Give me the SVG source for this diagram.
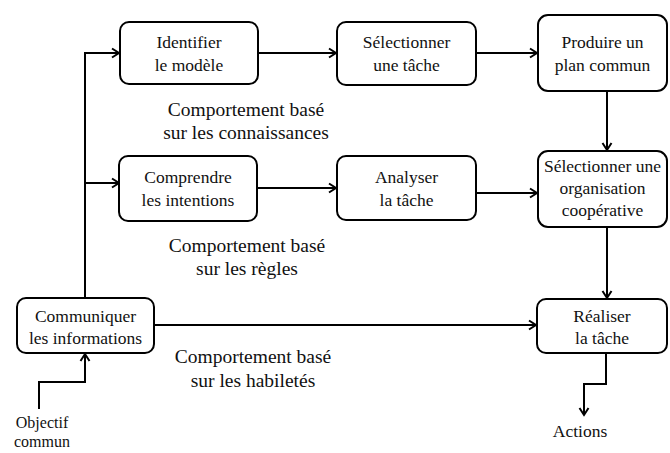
<svg xmlns="http://www.w3.org/2000/svg" width="670" height="453" viewBox="0 0 670 453">
<style>
.box{fill:#fff;stroke:#000;stroke-width:2}
.t{font-family:"Liberation Serif","Times New Roman",serif;font-size:17.5px;fill:#111;text-anchor:middle}
.s{font-family:"Liberation Serif","Times New Roman",serif;font-size:16px;fill:#111;text-anchor:middle}
.lbl{font-family:"Liberation Serif","Times New Roman",serif;font-size:19.5px;fill:#111;text-anchor:middle}
.c{fill:none;stroke:#000;stroke-width:2}
</style>
<defs>
<marker id="arr" viewBox="0 0 12 12" refX="10" refY="6" markerWidth="12" markerHeight="12" orient="auto" markerUnits="userSpaceOnUse">
<path d="M3,1.5 L10,6 L3,10.5" fill="none" stroke="#000" stroke-width="2"/>
</marker>
</defs>
<rect width="670" height="453" fill="#fff"/>
<g id="connectors">
<path class="c" d="M85,298 V53 H119" marker-end="url(#arr)"/>
<path class="c" d="M85,183 H119" marker-end="url(#arr)"/>
<path class="c" d="M258,53 H336" marker-end="url(#arr)"/>
<path class="c" d="M476,53 H537" marker-end="url(#arr)"/>
<path class="c" d="M607,91 V150" marker-end="url(#arr)"/>
<path class="c" d="M257,188 H336" marker-end="url(#arr)"/>
<path class="c" d="M476,193 H537" marker-end="url(#arr)"/>
<path class="c" d="M607,227 V298" marker-end="url(#arr)"/>
<path class="c" d="M154,325 H536" marker-end="url(#arr)"/>
<path class="c" d="M606,353 V384 H584 V415" marker-end="url(#arr)"/>
<path class="c" d="M39,409 V382 H85 V354" marker-end="url(#arr)"/>
</g>
<g id="identifier">
<rect class="box" x="120" y="22" width="138" height="62" rx="9"/>
<text class="t" x="189" y="48">Identifier</text>
<text class="t" x="189" y="71">le modèle</text>
</g>
<g id="selectionner-tache">
<rect class="box" x="337" y="22" width="139" height="63" rx="9"/>
<text class="t" x="406.5" y="48">Sélectionner</text>
<text class="t" x="406.5" y="71">une tâche</text>
</g>
<g id="produire">
<rect class="box" x="538" y="15" width="129" height="76" rx="10"/>
<text class="t" x="602.5" y="48">Produire un</text>
<text class="t" x="602.5" y="71">plan commun</text>
</g>
<g id="comprendre">
<rect class="box" x="119" y="156" width="138" height="65" rx="9"/>
<text class="t" x="188" y="183">Comprendre</text>
<text class="t" x="188" y="206">les intentions</text>
</g>
<g id="analyser">
<rect class="box" x="337" y="156" width="139" height="64" rx="9"/>
<text class="t" x="406.5" y="183">Analyser</text>
<text class="t" x="406.5" y="206">la tâche</text>
</g>
<g id="selectionner-org">
<rect class="box" x="538" y="151" width="129" height="76" rx="10"/>
<text class="t" x="602.5" y="172">Sélectionner une</text>
<text class="t" x="602.5" y="194">organisation</text>
<text class="t" x="602.5" y="216">coopérative</text>
</g>
<g id="communiquer">
<rect class="box" x="17" y="298" width="137" height="55" rx="9"/>
<text class="t" x="85.5" y="322">Communiquer</text>
<text class="t" x="85.5" y="344">les informations</text>
</g>
<g id="realiser">
<rect class="box" x="537" y="299" width="130" height="54" rx="9"/>
<text class="t" x="602" y="322">Réaliser</text>
<text class="t" x="602" y="344">la tâche</text>
</g>
<g id="objectif">
<text class="s" x="42" y="428">Objectif</text>
<text class="s" x="42" y="447">commun</text>
</g>
<g id="actions">
<text class="t" x="580" y="437">Actions</text>
</g>
<g id="labels">
<text class="lbl" x="246" y="116">Comportement basé</text>
<text class="lbl" x="246" y="139">sur les connaissances</text>
<text class="lbl" x="247" y="252">Comportement basé</text>
<text class="lbl" x="247" y="275">sur les règles</text>
<text class="lbl" x="253" y="363">Comportement basé</text>
<text class="lbl" x="253" y="387">sur les habiletés</text>
</g>
</svg>
